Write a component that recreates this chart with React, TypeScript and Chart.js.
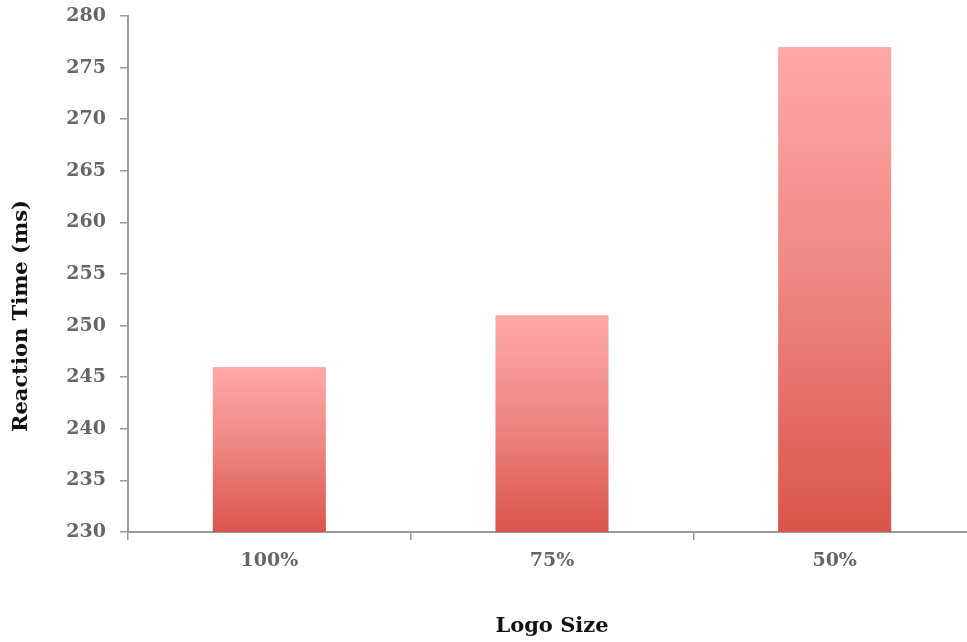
import React, { useEffect, useRef } from "react";
import { Chart, registerables } from "chart.js";

Chart.register(...registerables);

// Mean reaction time per logo size
const logoSizes = ["100%", "75%", "50%"];
const reactionTimes = [246, 251, 277];
const yMin = 230;
const yMax = 280;
const yStep = 5;
const xTitle = "Logo Size";
const yTitle = "Reaction Time (ms)";

const SERIF = "'DejaVu Serif', 'Liberation Serif', serif";
const TITLE_FONT = `bold 21px ${SERIF}`;

// Vertical axis title, set a little below the middle of the plot
const yTitlePlugin = {
  id: "yTitle",
  afterDraw(chart: any) {
    const { ctx, chartArea } = chart;
    ctx.save();
    ctx.font = TITLE_FONT;
    ctx.fillStyle = "#111111";
    ctx.textAlign = "center";
    ctx.textBaseline = "middle";
    ctx.translate(22, chartArea.bottom - 216);
    ctx.rotate(-Math.PI / 2);
    ctx.fillText(yTitle, 0, 0);
    ctx.restore();
  },
};

export default function App() {
  const canvasRef = useRef<HTMLCanvasElement | null>(null);

  useEffect(() => {
    document.documentElement.style.overflow = "hidden";
    document.body.style.margin = "0";
    document.body.style.overflow = "hidden";
    const canvas = canvasRef.current;
    if (!canvas) return;

    const chart = new Chart(canvas, {
      type: "bar",
      data: {
        labels: logoSizes,
        datasets: [
          {
            data: reactionTimes,
            barPercentage: 0.4,
            categoryPercentage: 1,
            borderWidth: 0,
            backgroundColor: (ctx: any) => {
              const c = ctx.chart;
              const area = c.chartArea;
              if (!area || ctx.raw == null) return "#e8706a";
              const top = c.scales.y.getPixelForValue(ctx.raw as number);
              const g = c.ctx.createLinearGradient(0, top, 0, area.bottom);
              g.addColorStop(0, "#ffa9a8");
              g.addColorStop(0.5, "#ee8580");
              g.addColorStop(1, "#d9554b");
              return g;
            },
          },
        ],
      },
      options: {
        responsive: false,
        animation: false,
        layout: { padding: { top: 16, left: 8, right: 4, bottom: 3 } },
        plugins: {
          legend: { display: false },
          tooltip: { enabled: false },
        },
        scales: {
          x: {
            offset: true,
            grid: {
              display: true,
              drawOnChartArea: false,
              drawTicks: true,
              tickLength: 8,
              color: "#9a9a9a",
              lineWidth: 1.5,
              offset: true,
            },
            border: { display: true, color: "#9a9a9a", width: 2 },
            ticks: {
              color: "#666666",
              font: { family: SERIF, size: 19, weight: "bold" },
              padding: 10,
            },
            title: {
              display: true,
              text: xTitle,
              color: "#111111",
              font: { family: SERIF, size: 21, weight: "bold" },
              padding: { top: 0, bottom: 0 },
            },
            afterFit: (scale: any) => {
              scale.height = 107;
              scale.paddingLeft = 0;
              scale.paddingRight = 0;
            },
          },
          y: {
            min: yMin,
            max: yMax,
            grid: {
              display: true,
              drawOnChartArea: false,
              drawTicks: true,
              tickLength: 8,
              color: "#9a9a9a",
              lineWidth: 1.5,
            },
            border: { display: true, color: "#9a9a9a", width: 2 },
            ticks: {
              stepSize: yStep,
              color: "#666666",
              font: { family: SERIF, size: 19, weight: "bold" },
              padding: 14,
            },
            afterFit: (scale: any) => {
              scale.width = 120;
              scale.paddingTop = 0;
              scale.paddingBottom = 0;
            },
          },
        },
      },
      plugins: [yTitlePlugin],
    });

    return () => chart.destroy();
  }, []);

  return (
    <div style={{ position: "absolute", left: 0, top: 0, width: 980, height: 642 }}>
      <canvas ref={canvasRef} width={980} height={642} />
    </div>
  );
}
